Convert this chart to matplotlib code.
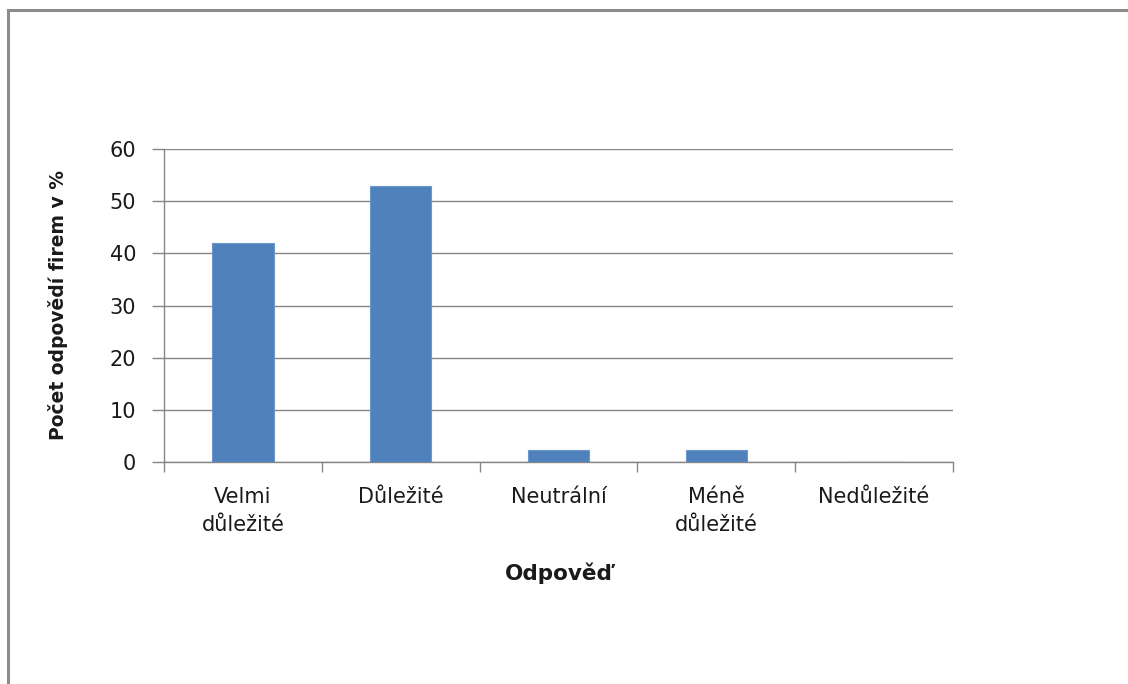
import matplotlib
matplotlib.use("Agg")
import matplotlib.pyplot as plt
from matplotlib.patches import Rectangle

categories = ["Velmi\ndůležité", "Důležité", "Neutrální", "Méně\ndůležité", "Nedůležité"]
values = [42, 53, 2.3, 2.3, 0]
y_ticks = [0, 10, 20, 30, 40, 50, 60]

plt.rcParams["font.family"] = ["DejaVu Sans"]

W, H = 1128, 684
fig = plt.figure(figsize=(W / 100, H / 100), dpi=100)

# outer chart frame (runs off the right and bottom edges)
fig.patches.append(Rectangle((8 / W, -0.5), 1.2, 1.5 - 10 / H, transform=fig.transFigure,
                             fill=False, edgecolor="#8c8c8c", linewidth=2.2))

left, right, top, bottom = 164, 953, 149, 462
ax = fig.add_axes([left / W, 1 - bottom / H, (right - left) / W, (bottom - top) / H])

grey = "#868686"
text_col = "#1a1a1a"
x = list(range(len(categories)))
ax.bar(x, values, width=0.39, color="#4f81bd", edgecolor="#6d96c9", linewidth=0.8, zorder=3)

ax.set_xlim(-0.5, len(categories) - 0.5)
ax.set_ylim(0, 60)
ax.set_yticks(y_ticks)
ax.set_yticklabels([str(t) for t in y_ticks], fontsize=15, color=text_col)
ax.yaxis.grid(True, color=grey, linewidth=1.0, zorder=0)
ax.set_axisbelow(True)

# category boundaries carry the ticks, labels sit at centres
ax.set_xticks([i - 0.5 for i in range(len(categories) + 1)])
ax.set_xticklabels([])
ax.set_xticks(x, minor=True)
ax.set_xticklabels(categories, minor=True, fontsize=15, color=text_col, linespacing=1.5)
ax.tick_params(axis="x", which="major", length=7, color=grey, width=1.0)
ax.tick_params(axis="x", which="minor", length=0, pad=18)
ax.tick_params(axis="y", length=9, color=grey, width=1.0, pad=11)

for s in ["top", "right"]:
    ax.spines[s].set_visible(False)
for s in ["left", "bottom"]:
    ax.spines[s].set_color(grey)
    ax.spines[s].set_linewidth(1.0)

ax.set_xlabel("Odpověď", fontsize=15.5, fontweight="bold", labelpad=20, color=text_col)
ax.set_ylabel("Počet odpovědí firem v %", fontsize=13.5, fontweight="bold", labelpad=30, color=text_col)

fig.savefig("out.png", dpi=100, facecolor="white")
